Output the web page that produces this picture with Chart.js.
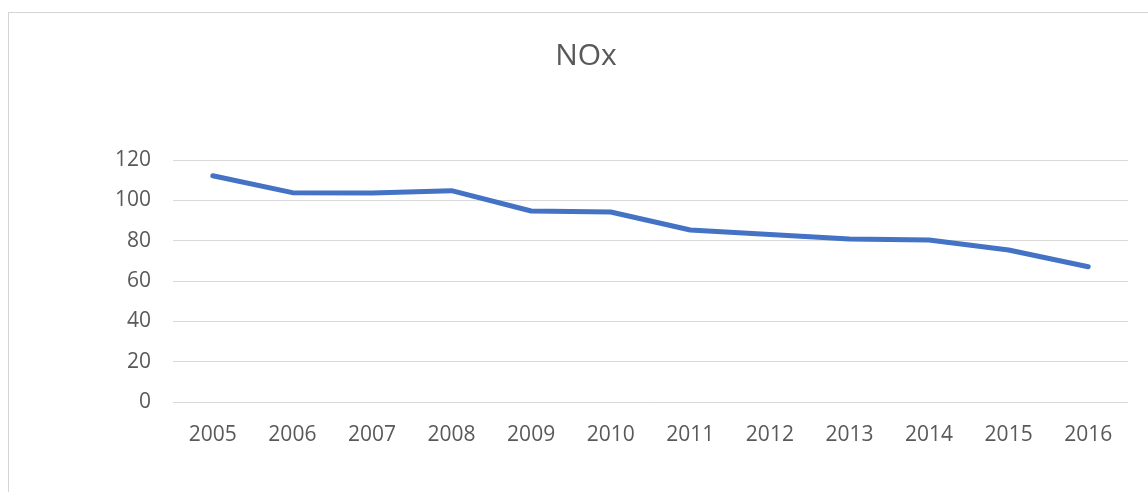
<!DOCTYPE html>
<html>
<head>
<meta charset="utf-8">
<script src="https://cdn.jsdelivr.net/npm/chart.js@4/dist/chart.umd.min.js"></script>
<style>
  html, body { margin: 0; padding: 0; background: #fff; overflow: hidden; }
  #frame {
    position: absolute; left: 8px; top: 12px;
    width: 1200px; height: 540px;
    border: 1px solid #d4d4d4;
  }
  #wrap { position: absolute; left: 0; top: 0; width: 1148px; height: 492px; }
</style>
</head>
<body>
<div id="frame"></div>
<div id="wrap"><canvas id="chart"></canvas></div>
<script>
  var years = ['2005', '2006', '2007', '2008', '2009', '2010',
               '2011', '2012', '2013', '2014', '2015', '2016'];
  var noxValues = [112.2, 103.8, 103.6, 104.8, 94.7, 94.2,
                   85.3, 83.1, 80.8, 80.3, 75.4, 67.1];
  var chartTitle = 'NOx';

  var textColor = '#595959';
  var gridColor = '#d9d9d9';

  var data = {
    labels: years,
    datasets: [{
      label: chartTitle,
      data: noxValues,
      borderColor: '#4472C4',
      backgroundColor: '#4472C4',
      borderWidth: 5,
      borderCapStyle: 'round',
      borderJoinStyle: 'round',
      pointRadius: 0,
      tension: 0,
      fill: false
    }]
  };

  // left padding keeps the title centred on the outer frame
  var options = {
    responsive: true,
    maintainAspectRatio: false,
    animation: false,
    layout: {
      padding: { left: 44, right: 20, top: 0, bottom: 0 }
    },
    scales: {
      y: {
        min: 0,
        max: 120,
        afterFit: function(scale) { scale.width = 129; },
        ticks: {
          stepSize: 20,
          padding: 22,
          color: textColor,
          font: { family: '"Open Sans"', size: 21 }
        },
        grid: {
          display: true,
          color: gridColor,
          lineWidth: 1,
          drawTicks: false
        },
        border: { display: false }
      },
      x: {
        offset: true,
        afterFit: function(scale) { scale.height = 90; },
        ticks: {
          padding: 20,
          color: textColor,
          font: { family: '"Open Sans"', size: 21 },
          maxRotation: 0
        },
        grid: { display: false, drawTicks: false, offset: true },
        border: { display: false }
      }
    },
    plugins: {
      legend: { display: false },
      tooltip: { enabled: false },
      title: {
        display: true,
        text: chartTitle,
        color: textColor,
        font: { family: '"Open Sans"', size: 30, weight: 'normal' },
        padding: { top: 38.5, bottom: 85.5 }
      }
    }
  };

  new Chart('chart', {
    type: 'line',
    options: options,
    data: data
  });
</script>
</body>
</html>
